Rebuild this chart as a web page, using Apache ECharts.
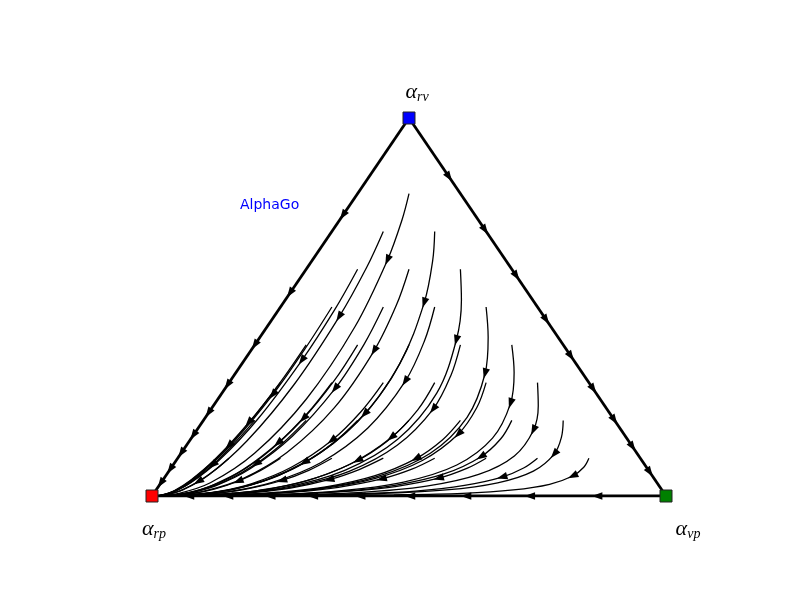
<!DOCTYPE html>
<html><head><meta charset="utf-8">
<script src="https://cdn.jsdelivr.net/npm/echarts@6/dist/echarts.min.js"></script>
<style>html,body{margin:0;padding:0;background:#fff}#c{width:800px;height:600px}</style>
</head><body><div id="c"></div>
<script>
// Corner strategies of the simplex: [name, p share, v share] (r share = 1 - p - v)
const cornerNames = ['rv', 'rp', 'vp'];
const cornerShares = [[0, 1], [0, 0], [1, 0]];
const cornerColors = ['#0000ff', '#ff0000', '#008000'];
const gameTitle = 'AlphaGo';

// Trajectories, points as [p share, v share], grouped by starting v
const trajV80 = [
  [[.1,.8],[.121,.731],[.146,.624],[.171,.447],[.172,.256],[.143,.113],[.096,.035],[.047,.006],[.011,0],[.0025,0]]
];
const trajV70 = [
  [[.1,.7],[.115,.606],[.127,.474],[.129,.295],[.112,.146],[.083,.057],[.052,.017],[.024,.003],[.006,0],[.001,0]],
  [[.2,.7],[.235,.622],[.274,.511],[.307,.351],[.302,.197],[.253,.088],[.176,.028],[.09,.005],[.022,0],[.005,0]]
];
const trajV60 = [
  [[.1,.6],[.109,.493],[.112,.359],[.104,.203],[.083,.093],[.058,.035],[.035,.01],[.016,.001],[.004,0],[.001,0]],
  [[.2,.6],[.223,.505],[.24,.384],[.238,.233],[.205,.115],[.154,.046],[.098,.014],[.047,.002],[.011,0],[.0025,0]],
  [[.3,.6],[.343,.518],[.386,.412],[.418,.272],[.403,.15],[.341,.068],[.244,.022],[.129,.004],[.032,0],[.007,0]]
];
const trajV50 = [
  [[.1,.5],[.103,.391],[.101,.268],[.087,.141],[.066,.061],[.045,.022],[.027,.006],[.012,.001],[.003,0],[.0006,0]],
  [[.2,.5],[.212,.4],[.214,.284],[.194,.158],[.155,.072],[.11,.027],[.068,.008],[.032,.001],[.007,0],[.0017,0]],
  [[.3,.5],[.325,.41],[.341,.303],[.33,.18],[.284,.088],[.216,.036],[.141,.011],[.069,.002],[.016,0],[.0037,0]],
  [[.4,.5],[.444,.42],[.486,.324],[.509,.208],[.485,.113],[.412,.051],[.302,.017],[.166,.003],[.043,0],[.01,0]]
];
const trajV40 = [
  [[.1,.4],[.099,.298],[.091,.194],[.074,.097],[.054,.041],[.036,.014],[.022,.004],[.01,.001],[.002,0],[.0005,0]],
  [[.2,.4],[.202,.305],[.192,.205],[.164,.107],[.125,.046],[.086,.017],[.052,.005],[.024,.001],[.006,0],[.001,0]],
  [[.3,.4],[.31,.312],[.305,.217],[.273,.119],[.219,.054],[.158,.021],[.099,.006],[.047,.001],[.011,0],[.0025,0]],
  [[.4,.4],[.422,.319],[.432,.23],[.41,.134],[.351,.065],[.27,.027],[.18,.008],[.09,.001],[.022,0],[.005,0]],
  [[.5,.4],[.541,.327],[.575,.245],[.586,.153],[.552,.082],[.471,.037],[.352,.013],[.199,.002],[.053,0],[.012,0]]
];
const trajV30 = [
  [[.1,.3],[.094,.214],[.083,.133],[.065,.064],[.047,.026],[.031,.009],[.018,.002],[.008,0],[.002,0],[.0004,0]],
  [[.2,.3],[.193,.219],[.175,.14],[.142,.069],[.104,.029],[.071,.01],[.042,.003],[.02,0],[.004,0],[.001,0]],
  [[.3,.3],[.295,.223],[.276,.147],[.233,.076],[.178,.033],[.124,.012],[.077,.004],[.036,.001],[.008,0],[.002,0]],
  [[.4,.3],[.403,.228],[.388,.155],[.343,.084],[.276,.038],[.201,.015],[.128,.004],[.062,.001],[.015,0],[.003,0]],
  [[.5,.3],[.515,.234],[.514,.164],[.479,.094],[.41,.046],[.318,.019],[.216,.006],[.111,.001],[.027,0],[.006,0]],
  [[.6,.3],[.632,.239],[.655,.174],[.652,.106],[.607,.057],[.521,.026],[.396,.009],[.23,.002],[.062,0],[.015,0]]
];
const trajV20 = [
  [[.1,.2],[.09,.137],[.077,.082],[.058,.038],[.041,.015],[.027,.005],[.016,.001],[.007,0],[.002,0],[.0004,0]],
  [[.2,.2],[.184,.139],[.16,.085],[.125,.041],[.09,.017],[.06,.006],[.036,.002],[.016,0],[.004,0],[.001,0]],
  [[.3,.2],[.283,.142],[.252,.089],[.203,.044],[.15,.019],[.103,.007],[.062,.002],[.029,0],[.007,0],[.0015,0]],
  [[.4,.2],[.385,.145],[.353,.094],[.295,.048],[.227,.021],[.16,.008],[.1,.002],[.047,.001],[.011,0],[.0025,0]],
  [[.5,.2],[.491,.149],[.464,.099],[.406,.053],[.326,.024],[.24,.01],[.155,.003],[.077,.001],[.018,0],[.004,0]],
  [[.6,.2],[.603,.152],[.588,.104],[.54,.059],[.461,.029],[.361,.012],[.249,.004],[.13,.001],[.032,0],[.007,0]],
  [[.7,.2],[.719,.155],[.727,.111],[.709,.066],[.655,.035],[.564,.016],[.434,.006],[.258,.001],[.072,0],[.017,0]]
];
const trajV10 = [
  [[.1,.1],[.087,.066],[.071,.038],[.052,.017],[.036,.007],[.023,.002],[.014,.001],[.006,0],[.001,0],[.0003,0]],
  [[.2,.1],[.177,.067],[.148,.039],[.112,.018],[.079,.007],[.052,.003],[.031,.001],[.014,0],[.003,0],[.0007,0]],
  [[.3,.1],[.271,.068],[.232,.041],[.18,.02],[.13,.008],[.087,.003],[.052,.001],[.024,0],[.006,0],[.001,0]],
  [[.4,.1],[.368,.07],[.323,.043],[.259,.021],[.192,.009],[.133,.003],[.081,.001],[.038,0],[.009,0],[.002,0]],
  [[.5,.1],[.47,.071],[.424,.045],[.351,.023],[.271,.01],[.193,.004],[.122,.001],[.059,0],[.014,0],[.003,0]],
  [[.6,.1],[.576,.073],[.534,.047],[.461,.025],[.372,.012],[.276,.005],[.181,.001],[.091,0],[.022,0],[.005,0]],
  [[.7,.1],[.686,.074],[.656,.05],[.594,.028],[.506,.013],[.4,.006],[.279,.002],[.148,.001],[.037,0],[.009,0]],
  [[.8,.1],[.802,.076],[.792,.053],[.758,.031],[.695,.016],[.601,.007],[.469,.003],[.285,.001],[.082,0],[.019,0]]
];
// Index of the point where each interior trajectory carries its arrow
const arrowPointIndex = 2;

// Arrows along the edges: v share on rv-rp edge, v share on rv-vp edge, p share on rp-vp edge
const edgeArrowsRvRp = [.743,.537,.40,.294,.22,.161,.114,.071,.034];
const edgeArrowsRvVp = [.844,.704,.582,.466,.37,.283,.201,.13,.063];
const edgeArrowsVpRp = [.866,.735,.611,.502,.405,.313,.23,.148,.072];

// ---- build the chart ----
const toXY = (pv) => [pv[0] + pv[1] / 2, pv[1]];
const allTraj = [].concat(trajV80, trajV70, trajV60, trajV50, trajV40, trajV30, trajV20, trajV10);
const corner = cornerShares.map(toXY);

const series = [];
// triangle edges
[[0, 1], [0, 2], [2, 1]].forEach(([a, b]) => {
  series.push({
    type: 'line', data: [corner[a], corner[b]], symbol: 'none', silent: true, z: 3,
    lineStyle: { color: '#000', width: 2.8 }
  });
});
allTraj.forEach(t => {
  series.push({
    type: 'line', data: t.map(toXY), symbol: 'none', smooth: 0.35, silent: true, z: 2,
    lineStyle: { color: '#000', width: 1.3 }
  });
});

const arrowData = [];
allTraj.forEach(t => {
  const h = toXY(t[arrowPointIndex]);
  const a = toXY(t[arrowPointIndex - 1]);
  const b = toXY(t[arrowPointIndex + 1]);
  arrowData.push([h[0], h[1], a[0], a[1], b[0], b[1]]);
});
edgeArrowsRvRp.forEach(v => { const h = toXY([0, v]); arrowData.push([h[0], h[1], corner[0][0], corner[0][1], corner[1][0], corner[1][1]]); });
edgeArrowsRvVp.forEach(v => { const h = toXY([1 - v, v]); arrowData.push([h[0], h[1], corner[0][0], corner[0][1], corner[2][0], corner[2][1]]); });
edgeArrowsVpRp.forEach(p => { const h = toXY([p, 0]); arrowData.push([h[0], h[1], corner[2][0], corner[2][1], corner[1][0], corner[1][1]]); });

series.push({
  type: 'custom', data: arrowData, silent: true, z: 5,
  renderItem: function (params, api) {
    const h = api.coord([api.value(0), api.value(1)]);
    const a = api.coord([api.value(2), api.value(3)]);
    const b = api.coord([api.value(4), api.value(5)]);
    let dx = b[0] - a[0], dy = b[1] - a[1];
    const len = Math.hypot(dx, dy) || 1; dx /= len; dy /= len;
    const L = 10.5, W = 3.7;
    const tip = [h[0] + dx * L * 0.5, h[1] + dy * L * 0.5];
    const base = [h[0] - dx * L * 0.5, h[1] - dy * L * 0.5];
    return {
      type: 'polygon',
      shape: { points: [tip, [base[0] - dy * W, base[1] + dx * W], [base[0] + dy * W, base[1] - dx * W]] },
      style: { fill: '#000' }
    };
  }
});

const labelRich = {
  a: { fontFamily: 'Liberation Serif', fontStyle: 'italic', fontSize: 22, color: '#000', verticalAlign: 'top', lineHeight: 24 },
  s: { fontFamily: 'Liberation Serif', fontStyle: 'italic', fontSize: 14, color: '#000', verticalAlign: 'top', lineHeight: 24, padding: [9, 0, 0, 0] }
};
const labelPlacement = [
  { position: 'top', distance: 6, offset: [8, 0] },
  { position: 'bottom', distance: 16, offset: [2, 0] },
  { position: 'bottom', distance: 16, offset: [22, 0] }
];
series.push({
  type: 'scatter', z: 10, silent: true,
  symbol: 'rect', symbolSize: 12,
  data: corner.map((c, i) => ({
    value: c,
    itemStyle: { color: cornerColors[i], borderColor: '#222', borderWidth: 1, opacity: 1 },
    label: Object.assign({ show: true, formatter: '{a|α}{s|' + cornerNames[i] + '}', rich: labelRich, color: '#000' }, labelPlacement[i])
  }))
});

const chart = echarts.init(document.getElementById('c'), null, { renderer: 'canvas' });
chart.setOption({
  animation: false,
  backgroundColor: '#fff',
  title: { text: gameTitle, left: 240, top: 198, padding: 0, textStyle: { color: '#0000ff', fontSize: 14, fontWeight: 'normal', fontFamily: 'DejaVu Sans' } },
  grid: { left: 152, right: 134, top: 118, bottom: 104 },
  xAxis: { type: 'value', min: 0, max: 1, show: false },
  yAxis: { type: 'value', min: 0, max: 1, show: false },
  series: series
});
</script>
</body></html>
